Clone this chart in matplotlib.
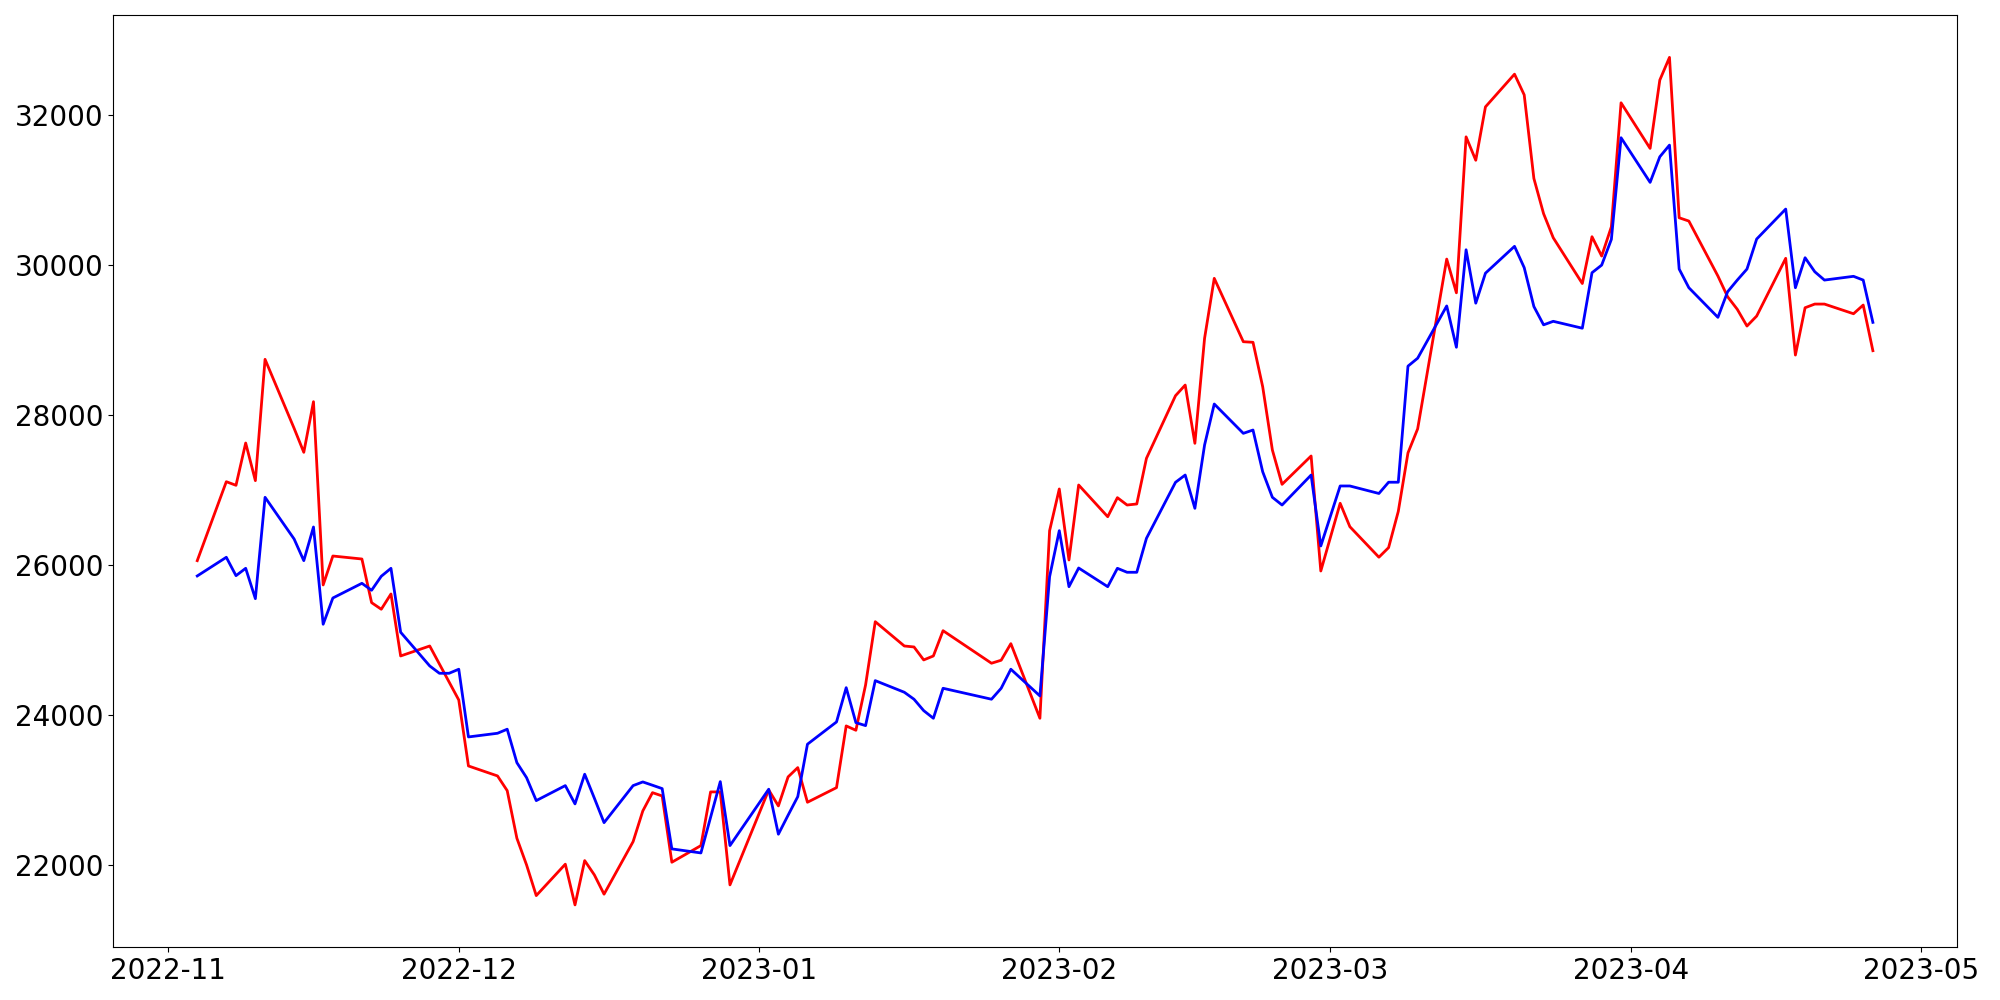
import matplotlib
matplotlib.use("Agg")
import matplotlib.pyplot as plt
import pandas as pd

dates = [
    "2022-11-04", "2022-11-07", "2022-11-08", "2022-11-09", "2022-11-10", "2022-11-11",
    "2022-11-14", "2022-11-15", "2022-11-16", "2022-11-17", "2022-11-18",
    "2022-11-21", "2022-11-22", "2022-11-23", "2022-11-24", "2022-11-25",
    "2022-11-28", "2022-11-29", "2022-11-30", "2022-12-01", "2022-12-02",
    "2022-12-05", "2022-12-06", "2022-12-07", "2022-12-08", "2022-12-09",
    "2022-12-12", "2022-12-13", "2022-12-14", "2022-12-15", "2022-12-16",
    "2022-12-19", "2022-12-20", "2022-12-21", "2022-12-22", "2022-12-23",
    "2022-12-26", "2022-12-27", "2022-12-28", "2022-12-29",
    "2023-01-02", "2023-01-03", "2023-01-04", "2023-01-05", "2023-01-06",
    "2023-01-09", "2023-01-10", "2023-01-11", "2023-01-12", "2023-01-13",
    "2023-01-16", "2023-01-17", "2023-01-18", "2023-01-19", "2023-01-20",
    "2023-01-25", "2023-01-26", "2023-01-27",
    "2023-01-30", "2023-01-31", "2023-02-01", "2023-02-02", "2023-02-03",
    "2023-02-06", "2023-02-07", "2023-02-08", "2023-02-09", "2023-02-10",
    "2023-02-13", "2023-02-14", "2023-02-15", "2023-02-16", "2023-02-17",
    "2023-02-20", "2023-02-21", "2023-02-22", "2023-02-23", "2023-02-24",
    "2023-02-27", "2023-02-28", "2023-03-02", "2023-03-03",
    "2023-03-06", "2023-03-07", "2023-03-08", "2023-03-09", "2023-03-10",
    "2023-03-13", "2023-03-14", "2023-03-15", "2023-03-16", "2023-03-17",
    "2023-03-20", "2023-03-21", "2023-03-22", "2023-03-23", "2023-03-24",
    "2023-03-27", "2023-03-28", "2023-03-29", "2023-03-30", "2023-03-31",
    "2023-04-03", "2023-04-04", "2023-04-05", "2023-04-06", "2023-04-07",
    "2023-04-10", "2023-04-11", "2023-04-12", "2023-04-13", "2023-04-14",
    "2023-04-17", "2023-04-18", "2023-04-19", "2023-04-20", "2023-04-21",
    "2023-04-24", "2023-04-25", "2023-04-26",
]

red_values = [
    26055, 27108, 27060, 27624, 27122, 28740,
    27820, 27500, 28175, 25731, 26117,
    26077, 25495, 25407, 25611, 24784,
    24917, 24677, 24437, 24197, 23317,
    23184, 22988, 22353, 21997, 21588,
    22007, 21464, 22055, 21864, 21607,
    22308, 22717, 22961, 22917, 22033,
    22255, 22971, 22971, 21731,
    22997, 22784, 23171, 23295, 22833,
    23028, 23851, 23793, 24397, 25241,
    24917, 24904, 24731, 24784, 25121,
    24687, 24727, 24948,
    23953, 26455, 27011, 26064, 27064,
    26641, 26895, 26797, 26811, 27420,
    28255, 28397, 27620, 29020, 29820,
    28975, 28967, 28375, 27531, 27073,
    27451, 25917, 26820, 26508,
    26101, 26229, 26712, 27492, 27813,
    30077, 29627, 31707, 31395, 32107,
    32543, 32267, 31152, 30683, 30361,
    29751, 30375, 30117, 30508, 32161,
    31553, 32464, 32767, 30628, 30584,
    29851, 29575, 29407, 29184, 29317,
    30087, 28797, 29428, 29477, 29477,
    29348, 29464, 28855,
]

blue_values = [
    25851, 26100, 25855, 25953, 25548, 26900,
    26344, 26055, 26504, 25207, 25557,
    25753, 25660, 25847, 25953, 25100,
    24651, 24553, 24553, 24607, 23704,
    23753, 23807, 23361, 23161, 22855,
    23055, 22811, 23207, 22887, 22561,
    23055, 23104, 23060, 23015, 22211,
    22157, 22633, 23108, 22255,
    23007, 22407, 22660, 22908, 23607,
    23904, 24361, 23895, 23855, 24455,
    24300, 24207, 24055, 23953, 24353,
    24207, 24353, 24607,
    24251, 25841, 26455, 25708, 25957,
    25708, 25953, 25900, 25900, 26353,
    27100, 27197, 26753, 27597, 28144,
    27753, 27797, 27241, 26900, 26797,
    27197, 26251, 27051, 27051,
    26951, 27101, 27101, 28649, 28755,
    29452, 28901, 30201, 29489, 29889,
    30247, 29963, 29444, 29200, 29247,
    29155, 29895, 29997, 30340, 31695,
    31100, 31441, 31597, 29944, 29695,
    29300, 29641, 29797, 29944, 30344,
    30744, 29695, 30095, 29908, 29797,
    29847, 29797, 29233,
]

x = pd.to_datetime(dates)

fig = plt.figure(figsize=(20, 10), dpi=100)
plt.plot(x, red_values, color="red", linewidth=2)
plt.plot(x, blue_values, color="blue", linewidth=2)
plt.xticks(fontsize=20)
plt.yticks(fontsize=20)
plt.tight_layout()
plt.savefig("out.png", dpi=100)
